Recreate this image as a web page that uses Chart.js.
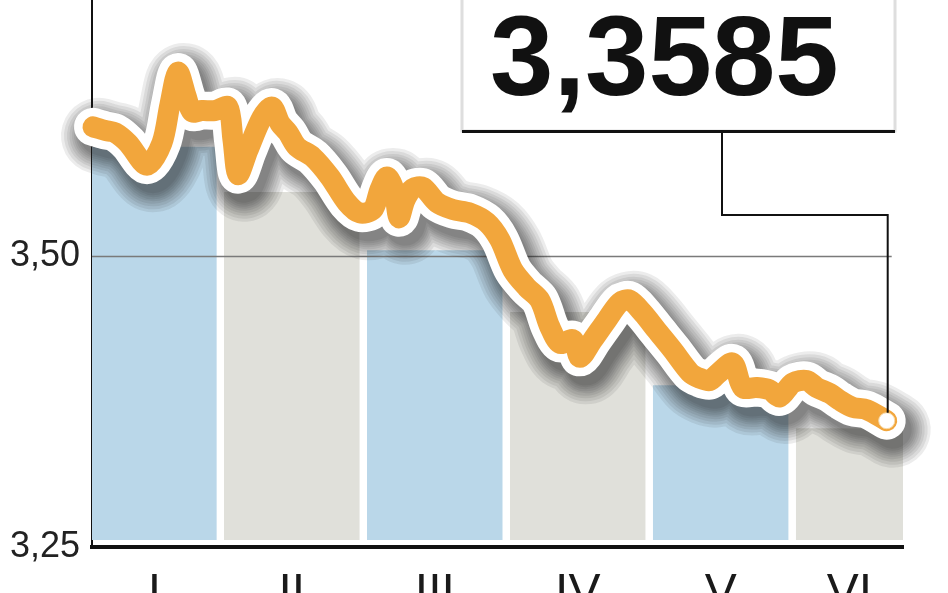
<!DOCTYPE html>
<html>
<head>
<meta charset="utf-8">
<script src="https://cdn.jsdelivr.net/npm/chart.js@4.4.1/dist/chart.umd.min.js"></script>
<style>
  html, body { margin: 0; padding: 0; background: #ffffff; }
  #wrap { width: 948px; height: 593px; }
</style>
</head>
<body>
<div id="wrap"><canvas id="c" width="948" height="593"></canvas></div>
<script>
// ---- data ----
// position along the axis in months (0 = start of January)
const dates = [0.084, 0.168, 0.238, 0.329, 0.462, 0.566, 0.622, 0.678, 0.734, 0.776, 0.846, 0.937,
  1.028, 1.063, 1.098, 1.168, 1.266, 1.336, 1.392, 1.448, 1.510, 1.622, 1.741, 1.860, 1.951,
  2.042, 2.091, 2.140, 2.189, 2.224, 2.266, 2.322, 2.392, 2.490, 2.601, 2.720, 2.839, 2.930,
  3.021, 3.119, 3.210, 3.280, 3.350, 3.441, 3.490, 3.580, 3.678, 3.769, 3.839, 3.930,
  4.028, 4.140, 4.259, 4.329, 4.399, 4.455, 4.559, 4.629, 4.727, 4.818, 4.888, 4.979,
  5.077, 5.147, 5.238, 5.308, 5.399, 5.497, 5.636];
const rates = [3.611, 3.608, 3.606, 3.597, 3.578, 3.597, 3.630, 3.658, 3.638, 3.624, 3.625, 3.625,
  3.628, 3.600, 3.570, 3.591, 3.619, 3.628, 3.614, 3.606, 3.594, 3.585, 3.568, 3.546, 3.537,
  3.540, 3.557, 3.568, 3.557, 3.533, 3.548, 3.558, 3.559, 3.546, 3.540, 3.537, 3.529, 3.514,
  3.488, 3.473, 3.462, 3.439, 3.425, 3.428, 3.413, 3.428, 3.445, 3.460, 3.462, 3.451,
  3.436, 3.419, 3.400, 3.395, 3.393, 3.399, 3.408, 3.387, 3.387, 3.385, 3.379, 3.391,
  3.393, 3.387, 3.382, 3.376, 3.370, 3.368, 3.3585];
const months = ['I', 'II', 'III', 'IV', 'V', 'VI'];
const monthStart = [0, 1, 2, 3, 4, 5];
const monthLevel = [3.594, 3.555, 3.505, 3.452, 3.389, 3.352];
const yTickValues = [3.25, 3.50];

// ---- styling / layout constants ----
const X_MIN = 0.077, X_MAX = 5.75, Y_MIN = 3.25, Y_MAX = 3.72;
const BAR_SPAN = 0.95, BAR_BASE = 3.256;
const barColors = ['#bad7e9', '#e0e0da'];
const ORANGE = '#f2a63c';
const shadowWidths = [76, 70, 64, 59, 54, 50, 46, 42, 38];

const linePoints = dates.map((d, i) => ({ x: d, y: rates[i] }));
const lastIdx = rates.length - 1;

const barSets = monthStart.map((s, i) => ({
  type: 'line',
  data: [{ x: s, y: monthLevel[i] }, { x: Math.min(s + BAR_SPAN, X_MAX), y: monthLevel[i] }],
  borderWidth: 0,
  pointRadius: 0,
  backgroundColor: barColors[i % 2],
  fill: { value: BAR_BASE },
  order: 20
}));

const tickCenters = monthStart.map(s => (Math.max(s, X_MIN) + Math.min(s + BAR_SPAN, X_MAX)) / 2);

const shadowPlugin = {
  id: 'shadowPlugin',
  beforeDatasetDraw(chart, args) {
    const ds = chart.data.datasets[args.index];
    const ctx = chart.ctx;
    if (ds.drawGridBefore) {
      const ys = chart.scales.y, xs = chart.scales.x;
      ctx.save();
      ctx.strokeStyle = '#7a7a7a';
      ctx.lineWidth = 1.5;
      yTickValues.forEach(v => {
        if (v === Y_MIN) return;
        const py = Math.round(ys.getPixelForValue(v)) + 0.5;
        ctx.beginPath();
        ctx.moveTo(chart.chartArea.left, py);
        ctx.lineTo(xs.getPixelForValue(dates[lastIdx]) + 5, py);
        ctx.stroke();
      });
      ctx.restore();
    }
    if (ds.shadowShift) {
      ctx.save();
      ctx.translate(ds.shadowShift[0], ds.shadowShift[1]);
    }
  },
  afterDatasetDraw(chart, args) {
    const ds = chart.data.datasets[args.index];
    if (ds.shadowShift) chart.ctx.restore();
  },
  afterDraw(chart) {
    const ctx = chart.ctx;
    const xs = chart.scales.x, ys = chart.scales.y;
    const px = xs.getPixelForValue(dates[lastIdx]);
    const py = ys.getPixelForValue(rates[lastIdx]);
    // value box
    ctx.save();
    ctx.fillStyle = '#ffffff';
    ctx.strokeStyle = '#dedede';
    ctx.lineWidth = 3;
    ctx.fillRect(462, -10, 433, 141);
    ctx.strokeRect(462, -10, 433, 141);
    ctx.strokeStyle = '#111';
    ctx.lineWidth = 3;
    ctx.beginPath();
    ctx.moveTo(462, 131.5);
    ctx.lineTo(895, 131.5);
    ctx.stroke();
    ctx.fillStyle = '#111';
    ctx.font = 'bold 114px "Liberation Sans", Arial, sans-serif';
    ctx.textBaseline = 'alphabetic';
    ctx.textAlign = 'left';
    ctx.fillText(rates[lastIdx].toFixed(4).replace('.', ','), 490, 95);
    // connector
    ctx.lineWidth = 2;
    ctx.beginPath();
    ctx.moveTo(722, 132);
    ctx.lineTo(722, 215);
    ctx.lineTo(px + 1, 215);
    ctx.lineTo(px + 1, py - 8);
    ctx.stroke();
    ctx.restore();
  }
};

const lineCommon = {
  data: linePoints,
  borderCapStyle: 'round',
  borderJoinStyle: 'round',
  tension: 0.3,
  fill: false,
  pointRadius: 0,
  clip: false
};

const shadowSets = shadowWidths.map((w, i) => Object.assign({}, lineCommon, {
  borderColor: 'rgba(30,30,30,0.085)',
  borderWidth: w,
  shadowShift: [6, 9],
  drawGridBefore: i === 0,
  order: 15 - i
}));

new Chart(document.getElementById('c'), {
  type: 'line',
  data: {
    datasets: [
      ...barSets,
      ...shadowSets,
      Object.assign({}, lineCommon, {
        borderColor: '#ffffff',
        borderWidth: 38,
        order: 2
      }),
      Object.assign({}, lineCommon, {
        borderColor: ORANGE,
        borderWidth: 21,
        pointRadius: ctx => ctx.dataIndex === lastIdx ? 8 : 0,
        pointBackgroundColor: '#ffffff',
        pointBorderColor: '#f7d9a6',
        pointBorderWidth: 1,
        order: 1
      })
    ]
  },
  options: {
    responsive: false,
    devicePixelRatio: 1,
    animation: false,
    events: [],
    layout: { autoPadding: false, padding: { left: 0, right: 45, top: 0, bottom: 0 } },
    plugins: { legend: { display: false }, tooltip: { enabled: false }, title: { display: false } },
    scales: {
      x: {
        type: 'linear',
        min: X_MIN,
        max: X_MAX,
        grid: { display: false, drawTicks: false },
        border: { display: true, color: '#111', width: 4 },
        afterBuildTicks: s => { s.ticks = tickCenters.map(v => ({ value: v })); },
        afterFit: s => { s.height = 46; s.paddingLeft = 0; s.paddingRight = 0; },
        ticks: {
          autoSkip: false,
          maxRotation: 0,
          padding: 18,
          color: '#1a1a1a',
          font: { family: '"Liberation Sans Narrow", "Liberation Sans", Arial, sans-serif', size: 48 },
          callback: (v, i) => months[i]
        }
      },
      y: {
        type: 'linear',
        min: Y_MIN,
        max: Y_MAX,
        grid: { display: false, drawTicks: false },
        border: { display: true, color: '#111', width: 2 },
        afterBuildTicks: s => { s.ticks = yTickValues.map(v => ({ value: v })); },
        afterFit: s => { s.width = 92; s.paddingTop = 0; s.paddingBottom = 0; },
        ticks: {
          padding: 12,
          color: '#222',
          font: { family: '"Liberation Sans", Arial, sans-serif', size: 36 },
          callback: v => v.toFixed(2).replace('.', ',')
        }
      }
    }
  },
  plugins: [shadowPlugin]
});
</script>
</body>
</html>
